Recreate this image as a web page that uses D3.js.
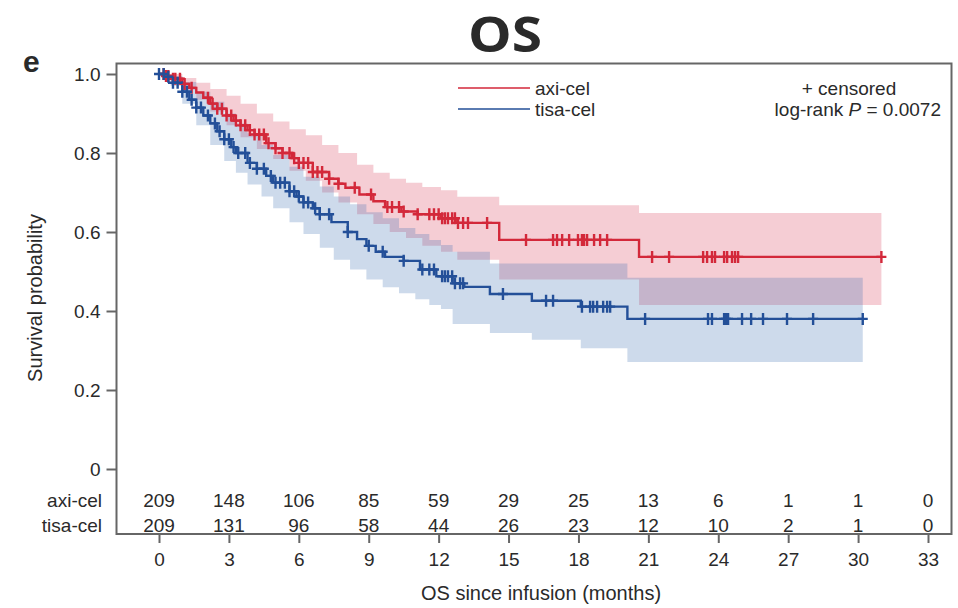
<!DOCTYPE html>
<html>
<head>
<meta charset="utf-8">
<script src="https://cdn.jsdelivr.net/npm/d3@7"></script>
<style>
  body { margin: 0; background: #fff; }
  text { font-family: "Liberation Sans", Arial, Helvetica, sans-serif; fill: #2a2a2a; }
</style>
</head>
<body>
<div id="chart"></div>
<script>

// ---- data ----
// Kaplan-Meier steps: [month, survival]
const axiKM = [
  [0, 1.0], [0.3, 0.995], [0.6, 0.988], [1.0, 0.975], [1.3, 0.965], [1.6, 0.953], [1.9, 0.94],
  [2.2, 0.925], [2.5, 0.912], [2.9, 0.895], [3.2, 0.882], [3.5, 0.87], [3.8, 0.858], [4.1, 0.847],
  [4.6, 0.825], [5.0, 0.812], [5.3, 0.8], [5.7, 0.787], [6.0, 0.775], [6.6, 0.752],
  [7.3, 0.735], [7.7, 0.722], [8.0, 0.712], [8.6, 0.695], [9.2, 0.678], [9.7, 0.663], [10.4, 0.652],
  [11.1, 0.645], [12.1, 0.635], [12.8, 0.623], [14.6, 0.58], [20.6, 0.537], [31.0, 0.537]
];
const tisaKM = [
  [0, 1.0], [0.3, 0.993], [0.6, 0.978], [1.0, 0.955], [1.3, 0.935], [1.6, 0.915], [1.9, 0.895],
  [2.2, 0.875], [2.5, 0.855], [2.8, 0.835], [3.1, 0.815], [3.3, 0.8], [3.8, 0.775], [4.2, 0.76],
  [4.6, 0.742], [4.9, 0.725], [5.6, 0.703], [5.9, 0.69], [6.2, 0.675], [6.6, 0.66],
  [6.9, 0.645], [7.4, 0.625], [8.1, 0.6], [8.5, 0.582], [8.9, 0.565], [9.3, 0.55], [9.7, 0.537], [10.5, 0.527],
  [11.2, 0.505], [11.9, 0.488], [12.6, 0.47], [13.1, 0.461], [14.2, 0.443],
  [16.0, 0.426], [18.1, 0.411], [20.1, 0.38], [30.2, 0.38]
];

// 95% confidence bands: [month, lower, upper]
const axiCI = [
  [0, 1.0, 1.0], [0.5, 0.98, 1.0], [1.0, 0.96, 0.99], [1.6, 0.935, 0.978], [2.2, 0.905, 0.962],
  [2.9, 0.87, 0.945], [3.5, 0.84, 0.925], [4.2, 0.81, 0.9], [4.9, 0.785, 0.88], [5.6, 0.755, 0.86],
  [6.3, 0.73, 0.845], [7.0, 0.7, 0.82], [7.7, 0.675, 0.8], [8.5, 0.645, 0.77], [9.2, 0.62, 0.75],
  [9.9, 0.6, 0.735], [10.6, 0.585, 0.725], [11.3, 0.565, 0.714], [12.1, 0.55, 0.706],
  [12.8, 0.53, 0.689], [14.6, 0.48, 0.668], [20.6, 0.415, 0.648], [31.0, 0.415, 0.648]
];
const tisaCI = [
  [0, 1.0, 1.0], [0.5, 0.97, 0.995], [1.0, 0.925, 0.98], [1.6, 0.87, 0.955], [2.2, 0.82, 0.93],
  [2.8, 0.78, 0.9], [3.3, 0.75, 0.875], [3.8, 0.72, 0.85], [4.4, 0.69, 0.82], [4.9, 0.66, 0.795],
  [5.6, 0.625, 0.765], [6.2, 0.595, 0.74], [6.9, 0.56, 0.715], [7.5, 0.53, 0.69], [8.2, 0.505, 0.67],
  [8.9, 0.48, 0.65], [9.6, 0.46, 0.635], [10.3, 0.445, 0.61], [11.0, 0.43, 0.595], [11.6, 0.415, 0.58],
  [12.1, 0.405, 0.567], [12.6, 0.367, 0.55], [14.2, 0.344, 0.52], [16.0, 0.327, 0.52],
  [18.1, 0.306, 0.52], [20.1, 0.271, 0.484], [30.2, 0.271, 0.484]
];

// censoring times (months)
const axiCensor = [
  0.2, 0.3, 0.4, 0.6, 0.7, 0.9, 1.1, 1.4, 2.1, 2.3, 2.5, 2.7, 2.9, 3.1, 3.3, 3.5, 3.7, 3.9,
  4.1, 4.3, 4.5, 4.7, 5.0, 5.3, 5.6, 5.8, 6.0, 6.2, 6.4, 6.6, 6.8, 7.0, 7.3, 7.7, 8.4,
  9.1, 9.8, 10.0, 10.3, 10.5, 11.1,
  11.6, 11.8, 12.0, 12.15, 12.27, 12.4, 12.58, 12.7, 12.83, 13.05, 13.26, 14.08,
  15.75, 16.91, 17.08, 17.3, 17.6, 17.98, 18.15, 18.24, 18.37, 18.67, 18.93, 19.23,
  21.16, 21.89, 23.35, 23.52, 23.73, 23.86, 24.25, 24.38, 24.59, 24.72, 24.85, 31.0
];
const tisaCensor = [
  0.0, 0.2, 0.4, 0.6, 0.8, 1.0, 1.2, 1.4, 1.6, 1.8, 2.1, 2.4, 2.6, 2.8, 3.0, 3.2, 3.4,
  3.7, 3.9, 4.2, 4.5, 4.8, 5.0, 5.2, 5.4, 5.6, 5.8, 6.0, 6.2, 6.4, 6.7, 6.9, 7.3, 8.1,
  9.0, 9.6, 10.5, 11.3, 11.6, 11.8, 12.15, 12.27, 12.4,
  12.58, 12.7, 12.92, 13.05, 14.76, 16.61, 16.91, 18.15, 18.5, 18.63, 18.8, 19.06,
  19.23, 19.36, 20.86, 23.56, 23.73, 24.25, 24.33, 24.42, 25.02, 25.41, 25.92,
  26.95, 28.07, 30.2
];

// number at risk table
const riskMonths = [0, 3, 6, 9, 12, 15, 18, 21, 24, 27, 30, 33];
const axiRisk  = [209, 148, 106, 85, 59, 29, 25, 13, 6, 1, 1, 0];
const tisaRisk = [209, 131, 96, 58, 44, 26, 23, 12, 10, 2, 1, 0];
const yTicks = [0, 0.2, 0.4, 0.6, 0.8, 1.0];

const redLine = "#d3283a", blueLine = "#234f98";
const redBand = "rgba(215,55,83,0.25)", blueBand = "rgba(55,107,175,0.25)";

// ---- drawing ----
const W = 958, H = 608;
const frame = {left: 116.5, top: 63.5, right: 951.5, bottom: 534};

const svg = d3.select("#chart").append("svg")
  .attr("width", W)
  .attr("height", H);

const x = d3.scaleLinear().domain([0, 33]).range([159, 928]);
const y = d3.scaleLinear().domain([0, 1]).range([469, 74]);

// survival at time t (step function)
function survAt(km, t) {
  let s = km[0][1];
  km.forEach(d => { if (d[0] <= t) s = d[1]; });
  return s;
}

// confidence bands
const band = d3.area()
  .curve(d3.curveStepAfter)
  .x(d => x(d[0]))
  .y0(d => y(d[1]))
  .y1(d => y(d[2]));

svg.append("path").attr("d", band(axiCI)).attr("fill", redBand);
svg.append("path").attr("d", band(tisaCI)).attr("fill", blueBand);

// KM lines
const kmLine = d3.line()
  .curve(d3.curveStepAfter)
  .x(d => x(d[0]))
  .y(d => y(d[1]));

svg.append("path").attr("d", kmLine(axiKM))
  .attr("fill", "none").attr("stroke", redLine).attr("stroke-width", 2.4);
svg.append("path").attr("d", kmLine(tisaKM))
  .attr("fill", "none").attr("stroke", blueLine).attr("stroke-width", 2.4);

// censor marks
function plus(t, km) {
  const cx = x(t), cy = y(survAt(km, t));
  return `M${cx - 5},${cy}H${cx + 5}M${cx},${cy - 6}V${cy + 6}`;
}
svg.append("g").selectAll("path")
  .data(axiCensor).join("path")
  .attr("d", d => plus(d, axiKM))
  .attr("stroke", redLine).attr("stroke-width", 2.4);
svg.append("g").selectAll("path")
  .data(tisaCensor).join("path")
  .attr("d", d => plus(d, tisaKM))
  .attr("stroke", blueLine).attr("stroke-width", 2.4);

// frame
svg.append("rect")
  .attr("x", frame.left).attr("y", frame.top)
  .attr("width", frame.right - frame.left)
  .attr("height", frame.bottom - frame.top)
  .attr("fill", "none").attr("stroke", "#666").attr("stroke-width", 2);

// y axis
const yAxis = svg.append("g")
  .attr("transform", `translate(${frame.left},0)`)
  .call(d3.axisLeft(y).tickValues(yTicks).tickSize(10).tickPadding(6)
    .tickFormat(d => d === 0 ? "0" : d.toFixed(1)));
yAxis.select(".domain").remove();
yAxis.selectAll("line").attr("stroke", "#666").attr("stroke-width", 2);
yAxis.selectAll("text").style("font-size", "19px").attr("fill", "#2a2a2a");

// x axis
const xAxis = svg.append("g")
  .attr("transform", `translate(0,${frame.bottom})`)
  .call(d3.axisBottom(x).tickValues(riskMonths).tickSize(9).tickPadding(10));
xAxis.select(".domain").remove();
xAxis.selectAll("line").attr("stroke", "#666").attr("stroke-width", 2);
xAxis.selectAll("text").style("font-size", "19px").attr("fill", "#2a2a2a");

// number at risk
const riskRows = [
  {label: "axi-cel", values: axiRisk, base: 507},
  {label: "tisa-cel", values: tisaRisk, base: 532}
];
riskRows.forEach(r => {
  svg.append("text")
    .attr("x", 102).attr("y", r.base)
    .attr("text-anchor", "end")
    .style("font-size", "19px")
    .text(r.label);
  svg.append("g").selectAll("text")
    .data(r.values).join("text")
    .attr("x", (d, i) => x(riskMonths[i]))
    .attr("y", r.base)
    .attr("text-anchor", "middle")
    .style("font-size", "19px")
    .text(d => d);
});

// axis titles
svg.append("text")
  .attr("x", 541).attr("y", 600)
  .attr("text-anchor", "middle")
  .style("font-size", "20px")
  .text("OS since infusion (months)");

svg.append("text")
  .attr("transform", "translate(42,298) rotate(-90)")
  .attr("text-anchor", "middle")
  .style("font-size", "20px")
  .text("Survival probability");

// panel letter and title
svg.append("text")
  .attr("x", 23).attr("y", 72)
  .style("font-size", "30px").style("font-weight", "bold")
  .attr("fill", "#000")
  .text("e");

svg.append("text")
  .attr("x", 468).attr("y", 52)
  .attr("textLength", 74).attr("lengthAdjust", "spacingAndGlyphs")
  .style("font-family", "'Open Sans', 'Liberation Sans', sans-serif")
  .style("font-size", "48px").style("font-weight", "bold")
  .attr("fill", "#000")
  .text("OS");

// legend
const legend = [
  {label: "axi-cel", color: redLine, cy: 88},
  {label: "tisa-cel", color: blueLine, cy: 109}
];
legend.forEach(l => {
  svg.append("line")
    .attr("x1", 458).attr("x2", 530)
    .attr("y1", l.cy).attr("y2", l.cy)
    .attr("stroke", l.color).attr("stroke-width", 2).attr("opacity", 0.75);
  svg.append("text")
    .attr("x", 535).attr("y", l.cy + 7)
    .style("font-size", "19px")
    .text(l.label);
});

svg.append("text")
  .attr("x", 849).attr("y", 95)
  .attr("text-anchor", "middle")
  .style("font-size", "19px")
  .text("+ censored");

const pv = svg.append("text")
  .attr("x", 941).attr("y", 116)
  .attr("text-anchor", "end")
  .style("font-size", "19px");
pv.append("tspan").text("log-rank ");
pv.append("tspan").style("font-style", "italic").text("P");
pv.append("tspan").text(" = 0.0072");

</script>
</body>
</html>
